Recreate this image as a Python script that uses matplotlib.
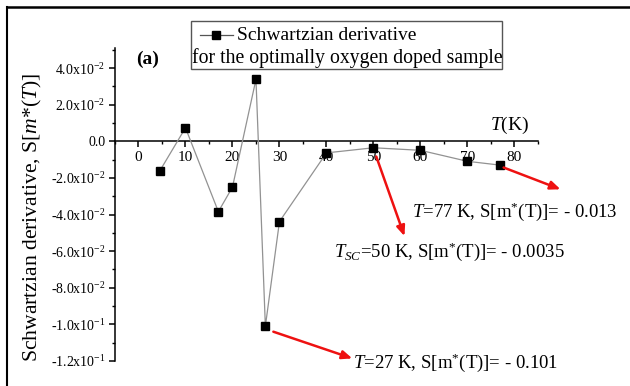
"""Schwartzian derivative S[m*(T)] for the optimally oxygen doped sample, panel (a)."""

import matplotlib

matplotlib.use("Agg")
import matplotlib.pyplot as plt
from matplotlib.lines import Line2D
from matplotlib.patches import Rectangle
from matplotlib.ticker import MultipleLocator

plt.rcParams["font.family"] = ["Liberation Serif", "DejaVu Serif"]
plt.rcParams["mathtext.fontset"] = "custom"
plt.rcParams["mathtext.rm"] = "Liberation Serif"
plt.rcParams["mathtext.it"] = "Liberation Serif:italic"
plt.rcParams["mathtext.bf"] = "Liberation Serif:bold"

# data
temps = [4.5, 10, 17, 20, 25, 27, 30, 40, 50, 60, 70, 77]
schwartzian = [-0.0163, 0.0074, -0.0384, -0.025, 0.0339, -0.101, -0.0438,
               -0.0063, -0.0035, -0.0049, -0.0109, -0.013]

x_ticks = [0, 10, 20, 30, 40, 50, 60, 70, 80]
y_ticks = [0.04, 0.02, 0.0, -0.02, -0.04, -0.06, -0.08, -0.10, -0.12]
y_tick_labels = [r"4.0x10$^{-2}$", r"2.0x10$^{-2}$", "0.0", r"-2.0x10$^{-2}$",
                 r"-4.0x10$^{-2}$", r"-6.0x10$^{-2}$", r"-8.0x10$^{-2}$",
                 r"-1.0x10$^{-1}$", r"-1.2x10$^{-1}$"]

# (text, text anchor, arrow tail, arrow head) in data units
callouts = [
    (r"$T$=77 K, S[m$^{*}$(T)]= - 0.013", (58.3, -0.0383), (77.7, -0.0143), (89.8, -0.0262)),
    (r"$T_{SC}$=50 K, S[m$^{*}$(T)]= - 0.0035", (41.5, -0.0605), (50.6, -0.0083), (56.6, -0.0518)),
    (r"$T$=27 K, S[m$^{*}$(T)]= - 0.101", (45.6, -0.1208), (28.7, -0.104), (45.5, -0.1186)),
]

fig = plt.figure(figsize=(6.3, 3.86), dpi=100)
ax = fig.add_axes([0.1825, 0.0648, 0.6714, 0.8108])

ax.plot(temps, schwartzian, color="#929292", lw=0.9, marker="s", ms=6,
        mfc="black", mec="black", zorder=3)

ax.set_xlim(-5, 85)
ax.set_ylim(-0.12, 0.051)
ax.spines["top"].set_visible(False)
ax.spines["right"].set_visible(False)
ax.spines["bottom"].set_position(("data", 0))
for s in ("left", "bottom"):
    ax.spines[s].set_linewidth(1.1)

ax.set_xticks(x_ticks)
ax.xaxis.set_minor_locator(MultipleLocator(5))
ax.set_yticks(y_ticks)
ax.set_yticklabels(y_tick_labels)
ax.yaxis.set_minor_locator(MultipleLocator(0.01))
ax.tick_params(axis="both", which="major", direction="out", length=4, width=1.1, labelsize=10)
ax.tick_params(axis="x", labelsize=11, pad=3)
ax.tick_params(axis="y", pad=3)
ax.tick_params(axis="both", which="minor", direction="out", length=2.5, width=1)

fig.text(0.052, 0.4365, r"Schwartzian derivative, S[$m$*($T$)]", rotation=90,
         ha="center", va="center", fontsize=15.6)
ax.text(-0.4, 0.0446, "(a)", fontsize=14, fontweight="bold", ha="left", va="center")
ax.text(79, 0.0088, r"$T$(K)", fontsize=14, ha="center", va="center")

for label, text_xy, tail, head in callouts:
    ax.text(*text_xy, label, fontsize=13.5, ha="left", va="center")
    ax.annotate("", xy=head, xytext=tail, annotation_clip=False,
                arrowprops=dict(arrowstyle="-|>,head_length=0.6,head_width=0.25",
                                color="#ee1111", lw=1.8, shrinkA=0, shrinkB=0))

# hand-made legend box
W, H = 630, 386
fig.add_artist(Rectangle((191 / W, 1 - 69 / H), 311 / W, 48 / H, transform=fig.transFigure,
                         fill=False, edgecolor="#555555", lw=1.0))
fig.add_artist(Line2D([200 / W, 233 / W], [1 - 35 / H, 1 - 35 / H], transform=fig.transFigure,
                      color="#555555", lw=0.9))
fig.add_artist(Line2D([216 / W], [1 - 35 / H], transform=fig.transFigure,
                      marker="s", ms=6, mfc="black", mec="black", ls="none"))
fig.text(237 / W, 1 - 35 / H, "Schwartzian derivative", fontsize=14, ha="left", va="center")
fig.text(192 / W, 1 - 58 / H, "for the optimally oxygen doped sample", fontsize=14.2,
         ha="left", va="center")

# outer frame (top and left edges visible in the crop)
fig.add_artist(Line2D([7 / W, 1], [1 - 7 / H, 1 - 7 / H], transform=fig.transFigure,
                      color="black", lw=1.8))
fig.add_artist(Line2D([7 / W, 7 / W], [0, 1 - 7 / H], transform=fig.transFigure,
                      color="black", lw=1.5))

fig.savefig("out.png", dpi=100)
